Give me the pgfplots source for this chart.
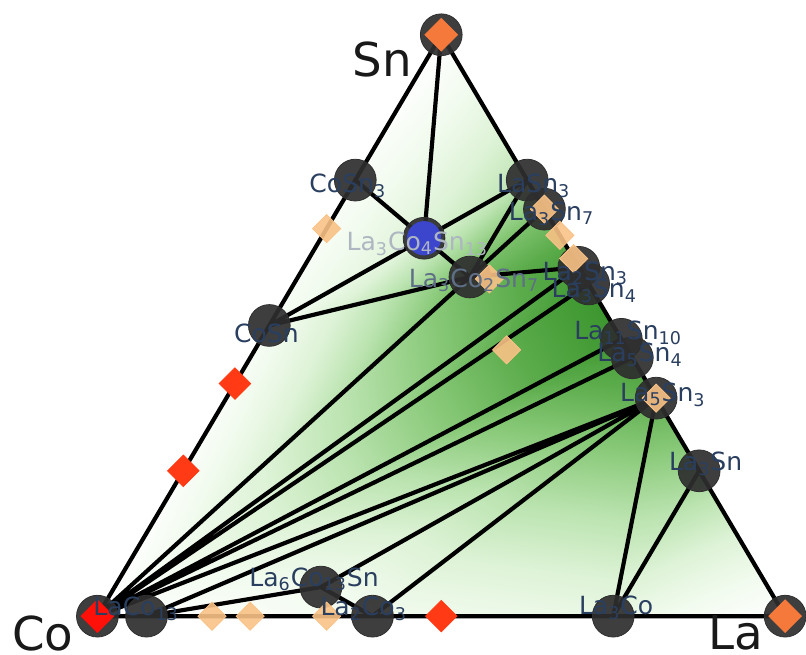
\documentclass[border=0pt]{standalone}
\usepackage{fontspec}
\setmainfont{DejaVu Sans}
\usepackage{pgfplots}
\pgfplotsset{compat=1.18}
\usepackage{pgfplotstable}

\definecolor{lbl}{HTML}{2A3F5F}
\definecolor{lblfaint}{HTML}{AEB6C2}
\definecolor{stable}{HTML}{2E2E2E}
\definecolor{quat}{HTML}{3B46CC}
\definecolor{elem}{HTML}{F5793A}
\definecolor{redu}{HTML}{FF3A14}
\definecolor{reddeep}{HTML}{FF1008}
\definecolor{paleu}{HTML}{F9C286}

\newcommand\s[1]{\textsubscript{#1}}

% Hull facets: three vertices per triangle, composition (la, sn) and depth e
\pgfplotstableread{
la sn e
0 1 0
0 0.75 0.08
0.15 0.65 0.35
0 1 0
0.15 0.65 0.35
0.25 0.75 0.5
0 0.75 0.08
0 0.5 0.12
0.15 0.65 0.35
0 0.5 0.12
0.15 0.65 0.35
0.25 0.5833 0.75
0.15 0.65 0.35
0.25 0.75 0.5
0.25 0.5833 0.75
0.25 0.75 0.5
0.3 0.7 0.7
0.25 0.5833 0.75
0.3 0.7 0.7
0.4 0.6 0.95
0.25 0.5833 0.75
0 0 0
0 0.5 0.12
0.25 0.5833 0.75
0 0 0
0.25 0.5833 0.75
0.4 0.6 0.95
0 0 0
0.4 0.6 0.95
0.4286 0.5714 1
0 0 0
0.4286 0.5714 1
0.5238 0.4762 1
0 0 0
0.5238 0.4762 1
0.5556 0.4444 0.92
0 0 0
0.5556 0.4444 0.92
0.625 0.375 0.82
0 0 0
0.625 0.375 0.82
0.0714 0 0.03
0.0714 0 0.03
0.625 0.375 0.82
0.3 0.05 0.16
0.0714 0 0.03
0.3 0.05 0.16
0.4 0 0.16
0.3 0.05 0.16
0.625 0.375 0.82
0.4 0 0.16
0.4 0 0.16
0.625 0.375 0.82
0.75 0 0.24
0.75 0 0.24
0.625 0.375 0.82
0.75 0.25 0.6
0.75 0 0.24
0.75 0.25 0.6
1 0 0
}\facets

% Tie lines between neighbouring phases (nan rows break the path)
\pgfplotstableread{
la sn
0 0
0 1
1 0
0 0
nan nan
0 1
0.15 0.65
nan nan
0 0.75
0.15 0.65
nan nan
0 0.5
0.15 0.65
nan nan
0.25 0.75
0.15 0.65
nan nan
0.15 0.65
0.25 0.5833
nan nan
0.25 0.75
0.25 0.5833
nan nan
0.3 0.7
0.25 0.5833
nan nan
0.4 0.6
0.25 0.5833
nan nan
0 0.5
0.25 0.5833
nan nan
0 0
0.25 0.5833
nan nan
0 0
0.4 0.6
nan nan
0 0
0.4286 0.5714
nan nan
0 0
0.5238 0.4762
nan nan
0 0
0.5556 0.4444
nan nan
0 0
0.625 0.375
nan nan
0.0714 0
0.625 0.375
nan nan
0.0714 0
0.3 0.05
nan nan
0.3 0.05
0.625 0.375
nan nan
0.3 0.05
0.4 0
nan nan
0.4 0
0.625 0.375
nan nan
0.75 0
0.625 0.375
nan nan
0.75 0
0.75 0.25
}\ties

% Stable phases
\pgfplotstableread{
la sn
0 0
0 1
1 0
0 0.75
0 0.5
0.15 0.65
0.25 0.5833
0.25 0.75
0.3 0.7
0.4 0.6
0.4286 0.5714
0.5238 0.4762
0.5556 0.4444
0.625 0.375
0.75 0.25
0.75 0
0.4 0
0.0714 0
0.3 0.05
}\stablephases

% Slightly unstable phases
\pgfplotstableread{
la sn
0.1667 0
0.2222 0
0.3333 0
0 0.6667
0.3 0.7
0.345 0.655
0.385 0.615
0.625 0.375
0.366 0.458
0.28 0.58
}\paleunstable

% Strongly unstable phases
\pgfplotstableread{
la sn
0 0.4
0 0.25
0.5 0
}\redunstable

\begin{document}
\begin{tikzpicture}
\begin{axis}[
  set layers,
  x=346pt, y=292.5pt,
  xmin=-0.1416, xmax=1.0231,
  ymin=-0.0667, ymax=1.0598,
  hide axis, clip=false,
  colormap={hull}{rgb255=(255,255,255) rgb255=(242,251,239) rgb255=(222,243,215) rgb255=(186,227,175) rgb255=(138,202,122) rgb255=(92,172,76) rgb255=(60,150,46)},
  point meta min=0, point meta max=1,
]
\path (axis cs:-0.1416,-0.0667) rectangle (axis cs:1.0231,1.0598);

\addplot[patch, patch type=triangle, shader=interp, point meta=explicit]
  table[x expr=\thisrow{la}+0.5*\thisrow{sn}, y=sn, meta=e] {\facets};

\addplot[black, line width=2.1pt, unbounded coords=jump, line join=round]
  table[x expr=\thisrow{la}+0.5*\thisrow{sn}, y=sn] {\ties};

\addplot[only marks, color=stable, mark=*, mark size=10.5pt,
  mark options={fill=stable, draw=none, fill opacity=0.92}]
  table[x expr=\thisrow{la}+0.5*\thisrow{sn}, y=sn] {\stablephases};

\addplot[only marks, color=quat, mark=*, mark size=8.4pt,
  mark options={fill=quat, draw=none}]
  coordinates {(0.475,0.65)};

\addplot[only marks, color=paleu, mark=square*, mark size=5pt,
  mark options={rotate=45, fill=paleu, draw=none, fill opacity=0.9}]
  table[x expr=\thisrow{la}+0.5*\thisrow{sn}, y=sn] {\paleunstable};

\addplot[only marks, color=redu, mark=square*, mark size=5.6pt,
  mark options={rotate=45, fill=redu, draw=none}]
  table[x expr=\thisrow{la}+0.5*\thisrow{sn}, y=sn] {\redunstable};

\addplot[only marks, color=elem, mark=square*, mark size=5.8pt,
  mark options={rotate=45, fill=elem, draw=none}]
  coordinates {(0.5,1) (1,0)};
\addplot[only marks, color=reddeep, mark=square*, mark size=5.8pt,
  mark options={rotate=45, fill=reddeep, draw=none}]
  coordinates {(0,0)};

\begin{pgfonlayer}{axis foreground}
\begin{scope}[every node/.style={font=\fontsize{12.6}{14}\selectfont, text=lbl, inner sep=0pt}]
\node at (axis cs:0.3642,0.7402) {CoSn\s{3}};
\node at (axis cs:0.2457,0.4872) {CoSn};
\node at (axis cs:0.6344,0.7402) {LaSn\s{3}};
\node at (axis cs:0.6604,0.6923) {La\s{3}Sn\s{7}};
\node[text=lblfaint] at (axis cs:0.4653,0.6410) {La\s{3}Co\s{4}Sn\s{13}};
\node[text=lbl!75] at (axis cs:0.5477,0.5778) {La\s{3}Co\s{2}Sn\s{7}};
\node at (axis cs:0.7095,0.5897) {La\s{2}Sn\s{3}};
\node at (axis cs:0.7225,0.5590) {La\s{3}Sn\s{4}};
\node at (axis cs:0.7717,0.4872) {La\s{11}Sn\s{10}};
\node at (axis cs:0.7890,0.4496) {La\s{5}Sn\s{4}};
\node at (axis cs:0.8223,0.3812) {La\s{5}Sn\s{3}};
\node at (axis cs:0.8844,0.2615) {La\s{3}Sn};
\node at (axis cs:0.7543,0.0137) {La\s{3}Co};
\node at (axis cs:0.3873,0.0120) {La\s{2}Co\s{3}};
\node at (axis cs:0.0564,0.0120) {LaCo\s{13}};
\node at (axis cs:0.3150,0.0632) {La\s{6}Co\s{13}Sn};
\end{scope}

\begin{scope}[every node/.style={font=\fontsize{23.5}{26}\selectfont, text=black!90, inner sep=0pt}]
\node at (axis cs:0.4147,0.957) {Sn};
\node at (axis cs:-0.0795,-0.0290) {Co};
\node at (axis cs:0.9277,-0.0290) {La};
\end{scope}
\end{pgfonlayer}
\end{axis}
\end{tikzpicture}
\end{document}
